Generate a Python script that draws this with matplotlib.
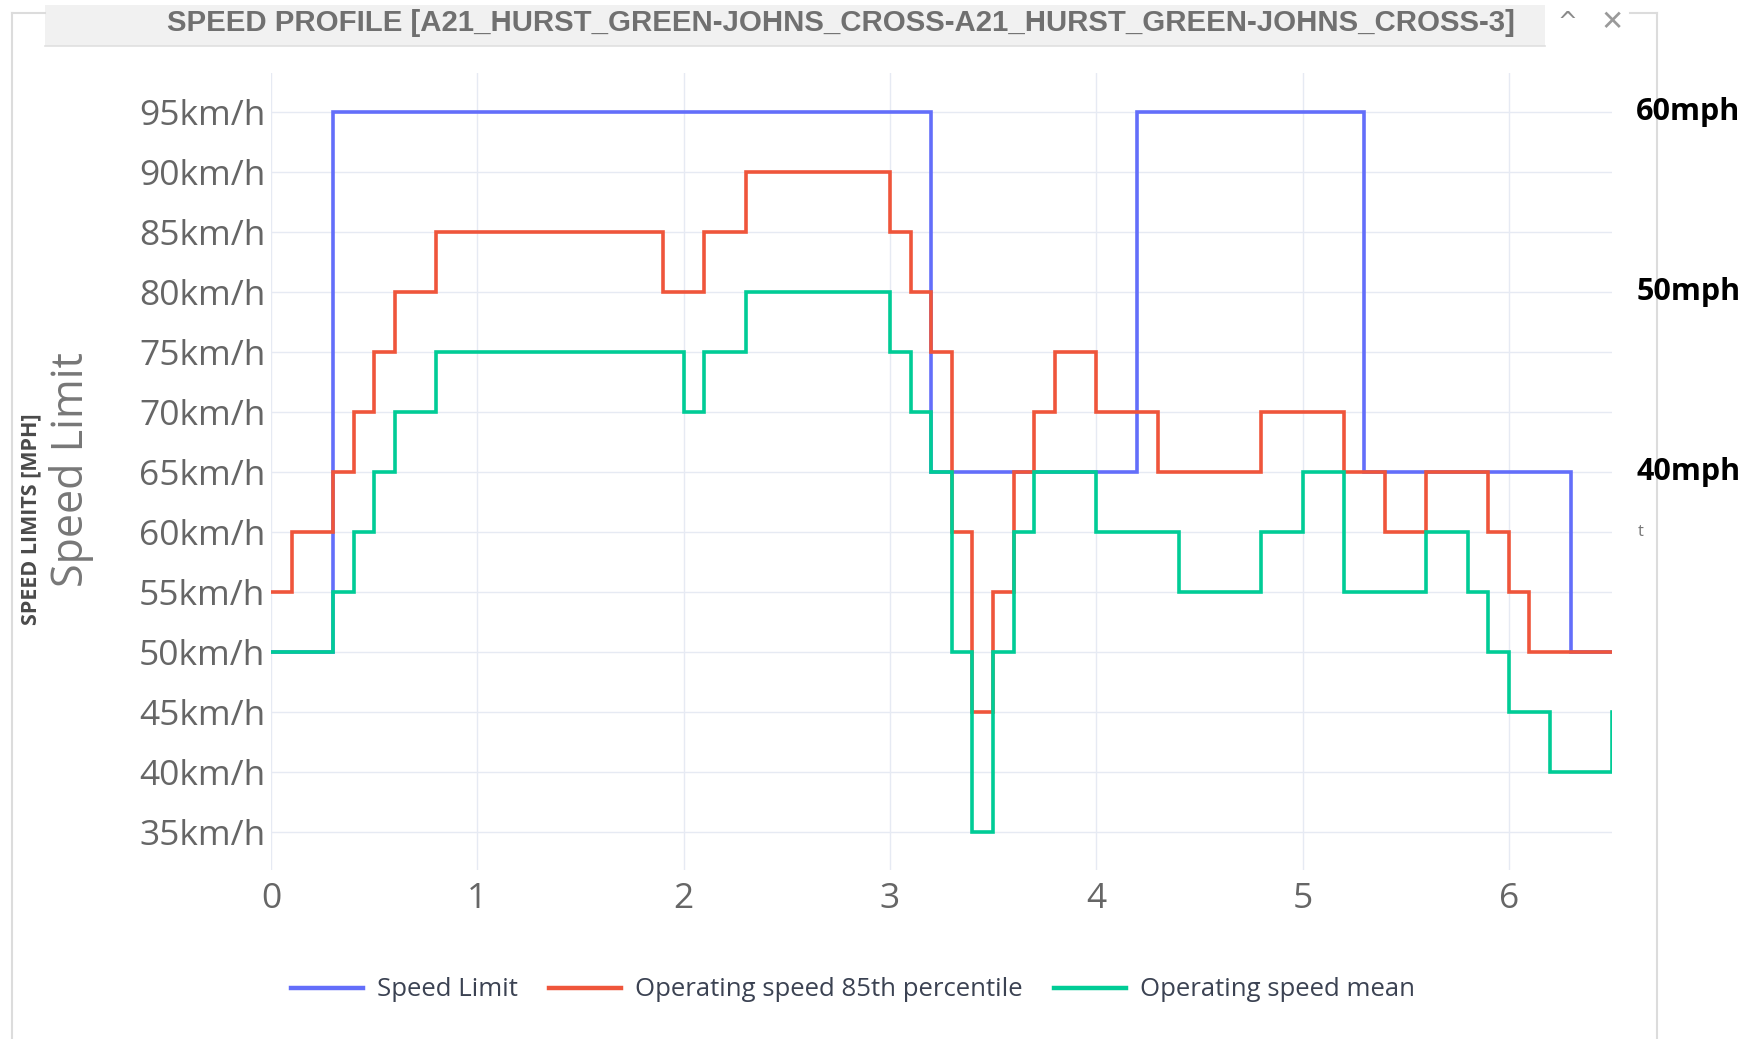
import matplotlib
matplotlib.use("Agg")
import matplotlib.pyplot as plt
from matplotlib.lines import Line2D
from matplotlib.patches import Rectangle
from matplotlib.transforms import blended_transform_factory

# distance along route and speed values (km/h), step changes
limit_x = [0, 0.3, 3.2, 4.2, 5.3, 6.3, 6.5]
limit_v = [50, 95, 65, 95, 65, 50, 50]

p85_x = [0, 0.1, 0.3, 0.4, 0.5, 0.6, 0.8, 1.9, 2.1, 2.3, 3.0, 3.1, 3.2, 3.3, 3.4,
         3.5, 3.6, 3.7, 3.8, 4.0, 4.3, 4.8, 5.2, 5.4, 5.6, 5.9, 6.0, 6.1, 6.5]
p85_v = [55, 60, 65, 70, 75, 80, 85, 80, 85, 90, 85, 80, 75, 60, 45,
         55, 65, 70, 75, 70, 65, 70, 65, 60, 65, 60, 55, 50, 50]

mean_x = [0, 0.3, 0.4, 0.5, 0.6, 0.8, 2.0, 2.1, 2.3, 3.0, 3.1, 3.2, 3.3, 3.4,
          3.5, 3.6, 3.7, 4.0, 4.4, 4.8, 5.0, 5.2, 5.6, 5.8, 5.9, 6.0, 6.2, 6.5]
mean_v = [50, 55, 60, 65, 70, 75, 70, 75, 80, 75, 70, 65, 50, 35,
          50, 60, 65, 60, 55, 60, 65, 55, 60, 55, 50, 45, 40, 45]

y_ticks = [35, 40, 45, 50, 55, 60, 65, 70, 75, 80, 85, 90, 95]
x_ticks = [0, 1, 2, 3, 4, 5, 6]
mph_labels = ["60mph", "50mph", "40mph"]
mph_levels = [95, 80, 65]

title = "SPEED PROFILE [A21_HURST_GREEN-JOHNS_CROSS-A21_HURST_GREEN-JOHNS_CROSS-3]"

W, H = 1749, 1039
fig = plt.figure(figsize=(W / 100, H / 100), dpi=100, facecolor="white")


def fx(px):
    return px / W


def fy(py):
    return 1 - py / H


# window frame and title bar
border = "#dcdcdc"
fig.add_artist(Rectangle((fx(45), fy(46)), fx(1545) - fx(45), fy(5) - fy(46),
                         transform=fig.transFigure, facecolor="#f1f1f1",
                         edgecolor="none", zorder=-2))
fig.add_artist(Line2D([fx(45), fx(1545)], [fy(46), fy(46)], color="#e0e0e0",
                      lw=1.2, zorder=-2))
for xs, ys in [([12, 12], [13, 1039]), ([1657, 1657], [13, 1039]),
               ([12, 45], [13, 13]), ([1630, 1657], [13, 13])]:
    fig.add_artist(Line2D([fx(v) for v in xs], [fy(v) for v in ys],
                          color=border, lw=1.5, zorder=-2))

fig.text(fx(841), fy(23), title, ha="center", va="center", fontsize=21.2,
         fontweight="bold", color="#707070",
         family=["Liberation Sans Narrow", "Liberation Sans"])
fig.text(fx(1567), fy(22), "^", ha="center", va="center", fontsize=17,
         color="#8a8a8a", family="DejaVu Sans")
fig.text(fx(1612), fy(22), "\u2715", ha="center", va="center", fontsize=20,
         color="#9a9a9a", family="DejaVu Sans")

ax = fig.add_axes([fx(271), fy(870), fx(1612) - fx(271), fy(72.5) - fy(870)])
ax.set_facecolor("white")

ax.step(limit_x, limit_v, where="post", color="#636efa", lw=2.6,
        solid_joinstyle="miter", label="Speed Limit")
ax.step(p85_x, p85_v, where="post", color="#ef553b", lw=2.6,
        solid_joinstyle="miter", label="Operating speed 85th percentile")
ax.step(mean_x, mean_v, where="post", color="#00cc96", lw=2.6,
        solid_joinstyle="miter", label="Operating speed mean")

ax.set_xlim(0, 6.5)
ax.set_ylim(31.8, 98.3)
ax.set_xticks(x_ticks)
ax.set_xticklabels([str(t) for t in x_ticks])
ax.set_yticks(y_ticks)
ax.set_yticklabels([f"{t}km/h" for t in y_ticks])
ax.grid(True, color="#e6eaf3", lw=1.0)
ax.set_axisbelow(True)
for s in ax.spines.values():
    s.set_visible(False)
ax.tick_params(axis="both", length=0, labelsize=25.5, labelcolor="#666666")
ax.tick_params(axis="y", pad=4)
ax.tick_params(axis="x", pad=9)
for lab in ax.get_xticklabels() + ax.get_yticklabels():
    lab.set_family("Open Sans")

fig.text(fx(72), fy(470), "Speed Limit", rotation=90, ha="center", va="center",
         fontsize=31, color="#777777", family="Open Sans")
fig.text(fx(31), fy(519), "SPEED LIMITS [MPH]", rotation=90, ha="center",
         va="center", fontsize=15.5, fontweight="bold", color="#4a4a4a",
         family="Open Sans")

# mph labels on the right
tr = blended_transform_factory(ax.transAxes, ax.transData)
for lab, lev in zip(mph_labels, mph_levels):
    ax.text(1.018, lev, lab, transform=tr, ha="left", va="center", fontsize=22,
            fontweight="bold", color="black", family="Open Sans", clip_on=False)
ax.text(1.019, 60, "t", transform=tr, ha="left", va="center", fontsize=12,
        color="#777777", family="Open Sans", clip_on=False)

leg = fig.legend(loc="center", bbox_to_anchor=(fx(853), fy(990)), ncol=3,
                 frameon=False, fontsize=18.5, handlelength=2.8,
                 handletextpad=0.55, columnspacing=1.2)
for t in leg.get_texts():
    t.set_color("#3b4252")
    t.set_family("Open Sans")
for h in leg.get_lines():
    h.set_linewidth(3.2)

fig.savefig("out.png", dpi=100, facecolor="white")
